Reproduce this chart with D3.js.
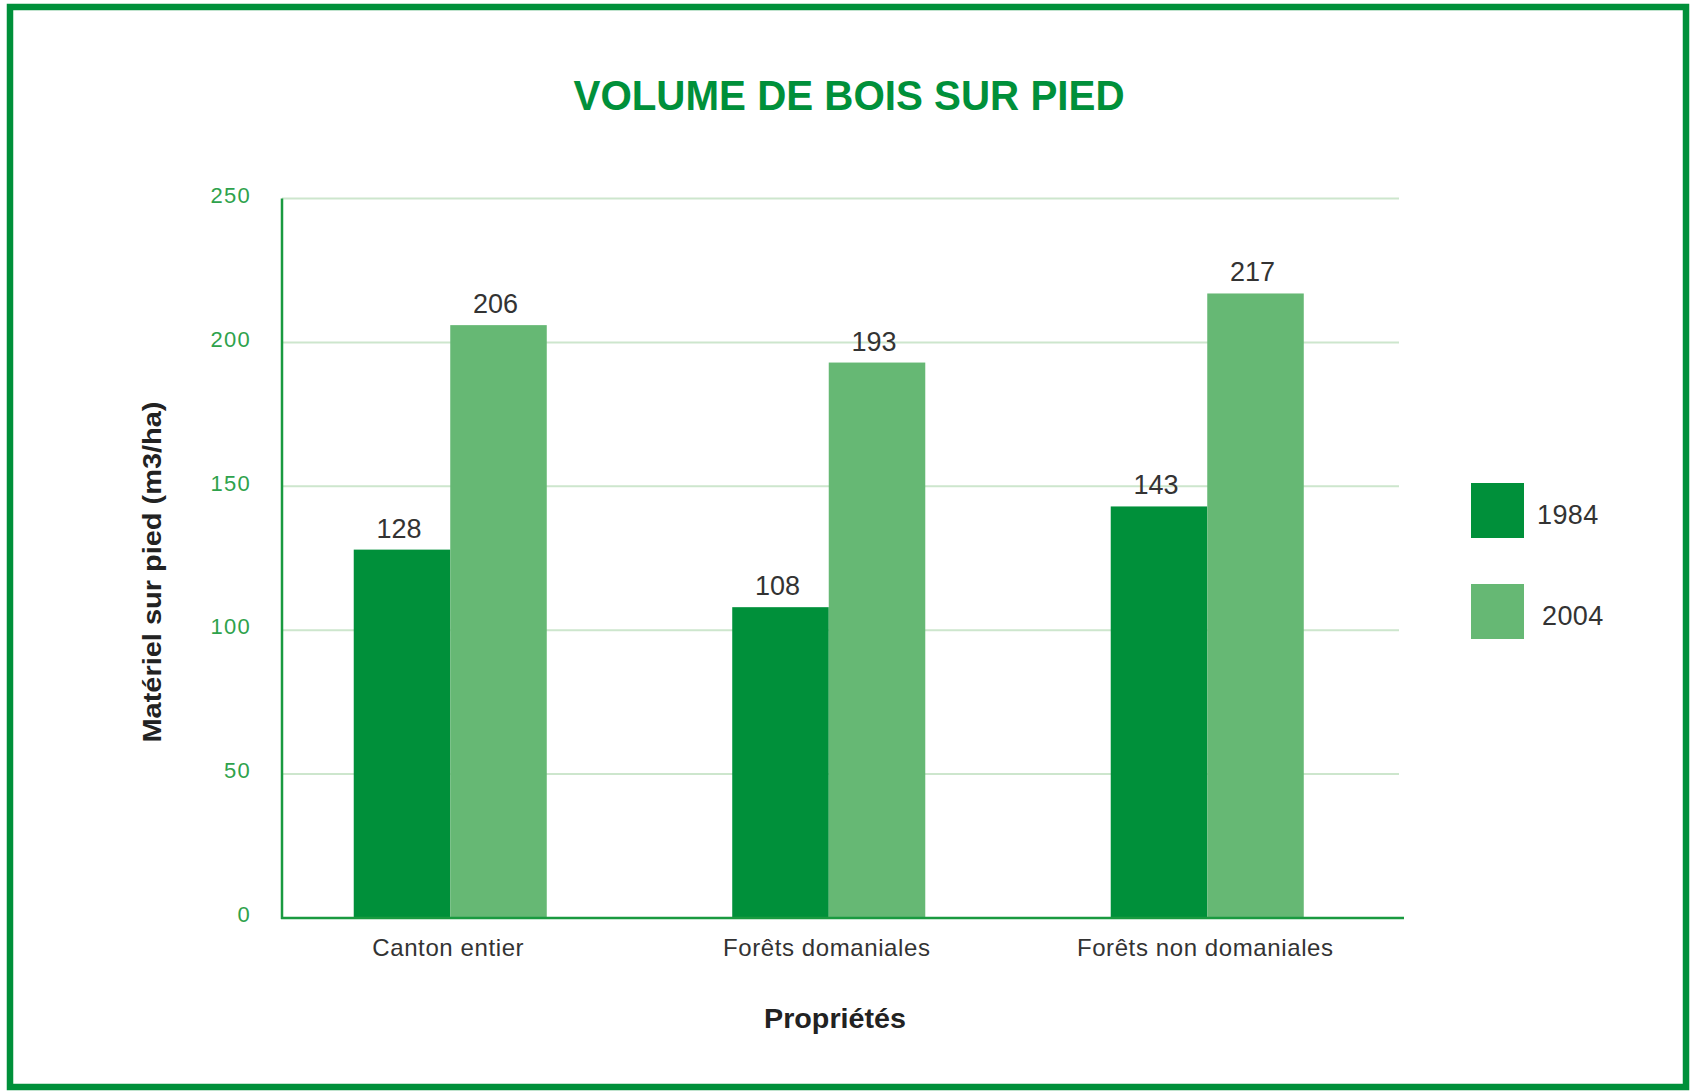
<!DOCTYPE html>
<html>
<head>
<meta charset="utf-8">
<script src="https://cdn.jsdelivr.net/npm/d3@7"></script>
<style>
  body { margin: 0; background: #fff; }
  text { font-family: "Liberation Sans", Arial, sans-serif; }
</style>
</head>
<body>
<svg id="chart" width="1692" height="1092"></svg>
<script>
const categories = ['Canton entier', 'Forêts domaniales', 'Forêts non domaniales'];
const series = ['1984', '2004'];
const values1984 = [128, 108, 143];
const values2004 = [206, 193, 217];
const yTicks = [0, 50, 100, 150, 200, 250];

const dark = '#00903a';
const light = '#66b874';
const axisGreen = '#1a9a40';

const svg = d3.select('#chart');

// frame
svg.append('rect')
  .attr('x', 10).attr('y', 7)
  .attr('width', 1676).attr('height', 1080)
  .attr('fill', 'none').attr('stroke', dark).attr('stroke-width', 6.5);

const y = d3.scaleLinear().domain([0, 250]).range([918, 198.5]);
const x0 = d3.scaleBand().domain(categories).range([261, 1396.5])
  .paddingInner(0.49).paddingOuter(0.245);
const x1 = d3.scaleBand().domain(series).range([0, x0.bandwidth()]);
const color = d3.scaleOrdinal().domain(series).range([dark, light]);

const axisLeftX = 282;

// gridlines
svg.append('g')
  .selectAll('line')
  .data(yTicks.filter(d => d > 0))
  .join('line')
  .attr('x1', axisLeftX).attr('x2', 1399)
  .attr('y1', d => y(d)).attr('y2', d => y(d))
  .attr('stroke', '#cde6cd').attr('stroke-width', 2);

// y axis labels
const yAxis = svg.append('g')
  .attr('transform', `translate(${axisLeftX},0)`)
  .call(d3.axisLeft(y).tickValues(yTicks).tickSize(0).tickPadding(31));
yAxis.select('.domain').remove();
yAxis.selectAll('text')
  .attr('dy', '0.17em')
  .attr('fill', '#2ea24c')
  .attr('font-size', 22)
  .attr('letter-spacing', 1.3)
  .style('font-family', '"Liberation Sans", Arial, sans-serif');

// bars
const rows = categories.map((c, i) => ({ cat: c, vals: [values1984[i], values2004[i]] }));
const groups = svg.append('g').selectAll('g')
  .data(rows)
  .join('g')
  .attr('transform', d => `translate(${x0(d.cat)},0)`);

groups.selectAll('rect')
  .data(d => series.map((s, i) => ({ s, v: d.vals[i] })))
  .join('rect')
  .attr('x', d => x1(d.s))
  .attr('y', d => y(d.v))
  .attr('width', x1.bandwidth())
  .attr('height', d => y(0) - y(d.v))
  .attr('fill', d => color(d.s));

groups.selectAll('text.val')
  .data(d => series.map((s, i) => ({ s, v: d.vals[i] })))
  .join('text')
  .attr('class', 'val')
  .attr('x', d => x1(d.s) + x1.bandwidth() / 2 - 3)
  .attr('y', d => y(d.v) - 12)
  .attr('text-anchor', 'middle')
  .attr('font-size', 27)
  .attr('fill', '#333')
  .text(d => d.v);

// axis lines
svg.append('line')
  .attr('x1', axisLeftX).attr('x2', axisLeftX)
  .attr('y1', y(250)).attr('y2', y(0) + 1)
  .attr('stroke', axisGreen).attr('stroke-width', 2.5);
svg.append('line')
  .attr('x1', axisLeftX - 1).attr('x2', 1404)
  .attr('y1', y(0)).attr('y2', y(0))
  .attr('stroke', axisGreen).attr('stroke-width', 2.5);

// category labels
svg.append('g').selectAll('text')
  .data(categories)
  .join('text')
  .attr('x', d => x0(d) + x0.bandwidth() / 2 - 2)
  .attr('y', 956)
  .attr('text-anchor', 'middle')
  .attr('font-size', 24)
  .attr('letter-spacing', 0.6)
  .attr('fill', '#333')
  .text(d => d);

// title
svg.append('text')
  .attr('x', 849).attr('y', 110)
  .attr('text-anchor', 'middle')
  .attr('font-size', 43).attr('font-weight', 'bold')
  .attr('fill', dark)
  .attr('textLength', 551).attr('lengthAdjust', 'spacingAndGlyphs')
  .text('VOLUME DE BOIS SUR PIED');

// axis titles
svg.append('text')
  .attr('x', 835).attr('y', 1028)
  .attr('text-anchor', 'middle')
  .attr('font-size', 28).attr('font-weight', 'bold')
  .attr('fill', '#222')
  .attr('textLength', 142).attr('lengthAdjust', 'spacingAndGlyphs')
  .text('Propriétés');

svg.append('text')
  .attr('transform', 'translate(160.5,572) rotate(-90)')
  .attr('text-anchor', 'middle')
  .attr('font-size', 26).attr('font-weight', 'bold')
  .attr('fill', '#222')
  .attr('textLength', 341).attr('lengthAdjust', 'spacingAndGlyphs')
  .text('Matériel sur pied (m3/ha)');

// legend
const ly = d3.scalePoint().domain(series).range([483, 584]);
const leg = svg.append('g').selectAll('g')
  .data(series)
  .join('g')
  .attr('transform', d => `translate(1471,${ly(d)})`);
leg.append('rect')
  .attr('width', 53).attr('height', 55)
  .attr('fill', d => color(d));
leg.append('text')
  .attr('x', (d, i) => 66 + i * 5).attr('y', 41)
  .attr('font-size', 27)
  .attr('letter-spacing', 0.4)
  .attr('fill', '#333')
  .text(d => d);
</script>
</body>
</html>
